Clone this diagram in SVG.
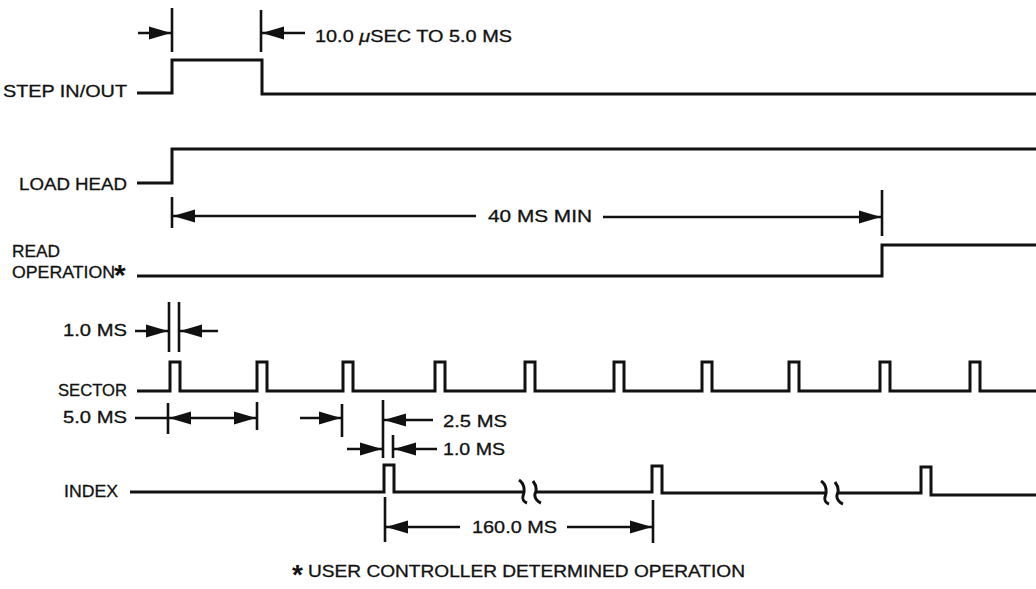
<svg xmlns="http://www.w3.org/2000/svg" width="1036" height="589" viewBox="0 0 1036 589">
<style>
.sig{fill:none;stroke:#111;stroke-width:3;stroke-linejoin:miter}
.tick{stroke:#111;stroke-width:2.6;fill:none}
.dim{stroke:#111;stroke-width:2.6;fill:none}
.ar{marker-end:url(#ah)}
.lbl{font-family:"Liberation Sans",Arial,sans-serif;font-size:17px;fill:#111;stroke:#111;stroke-width:0.3}
.star{font-family:"Liberation Sans",Arial,sans-serif;font-weight:bold;fill:#111}
</style>
<defs>
<marker id="ah" markerUnits="userSpaceOnUse" markerWidth="24" markerHeight="16" viewBox="-23 -8 24 16" refX="0" refY="0" orient="auto">
<path d="M-22,-6.5 L0,0 L-22,6.5 Z" fill="#111"/>
</marker>
<marker id="ahs" markerUnits="userSpaceOnUse" markerWidth="24" markerHeight="16" viewBox="-23 -8 24 16" refX="0" refY="0" orient="auto-start-reverse">
<path d="M-22,-6.5 L0,0 L-22,6.5 Z" fill="#111"/>
</marker>
</defs>
<rect width="1036" height="589" fill="#fff"/>

<g id="step">
<text class="lbl" x="3" y="97" textLength="124" lengthAdjust="spacingAndGlyphs">STEP IN/OUT</text>
<path class="sig" d="M137,93 H172 V60 H262 V94 H1036"/>
</g>

<g id="loadhead">
<text class="lbl" x="19" y="190" textLength="108" lengthAdjust="spacingAndGlyphs">LOAD HEAD</text>
<path class="sig" d="M137,183 H172 V149 H1036"/>
</g>

<g id="readop">
<text class="lbl" x="12" y="257" textLength="48" lengthAdjust="spacingAndGlyphs">READ</text>
<text class="lbl" x="12" y="278" textLength="103" lengthAdjust="spacingAndGlyphs">OPERATION</text>
<text class="star" x="114" y="285" font-size="30">*</text>
<path class="sig" d="M137,276 H882 V245 H1036"/>
</g>

<g id="sector">
<text class="lbl" x="58" y="396" textLength="69" lengthAdjust="spacingAndGlyphs">SECTOR</text>
<path class="sig" d="M137,391 H170 V362 H180 V391 H257 V362 H267 V391 H343 V362 H353 V391 H435 V362 H445 V391 H525 V362 H535 V391 H614 V362 H624 V391 H702 V362 H712 V391 H789 V362 H799 V391 H880 V362 H890 V391 H970 V362 H980 V391 H1036"/>
</g>

<g id="index">
<text class="lbl" x="64" y="497" textLength="54" lengthAdjust="spacingAndGlyphs">INDEX</text>
<path class="sig" d="M130,492 H384 V465 H394 V492 H524"/>
<path class="sig" d="M519,480 C525,484 525,492 523,496 C522,499 524,502 527,503"/>
<path class="sig" d="M533,481 C536,485 537,490 535,494 C534,498 538,502 541,503 M535,492 H652 V466 H662 V493 H826"/>
<path class="sig" d="M821,481 C827,485 827,493 825,497 C824,500 826,503 829,504"/>
<path class="sig" d="M835,482 C838,486 839,491 837,495 C836,499 840,503 843,504 M837,493 H921 V467 H931 V495 H1036"/>
</g>

<g id="connectors">
<line class="tick" x1="172" y1="8" x2="172" y2="52"/>
<line class="tick" x1="261" y1="10" x2="261" y2="52"/>
<line class="dim ar" x1="138" y1="33" x2="171" y2="33"/>
<line class="dim ar" x1="305" y1="33" x2="262" y2="33"/>
<text class="lbl" x="315" y="42" textLength="197" lengthAdjust="spacingAndGlyphs">10.0 <tspan font-style="italic">μ</tspan>SEC TO 5.0 MS</text>

<line class="tick" x1="172" y1="197" x2="172" y2="228"/>
<line class="tick" x1="882" y1="190" x2="882" y2="236"/>
<line class="dim ar" x1="476" y1="216" x2="173" y2="216"/>
<line class="dim ar" x1="603" y1="217" x2="881" y2="217"/>
<text class="lbl" x="488" y="222" textLength="104" lengthAdjust="spacingAndGlyphs">40 MS MIN</text>

<text class="lbl" x="63" y="336" textLength="64" lengthAdjust="spacingAndGlyphs">1.0 MS</text>
<line class="tick" x1="169" y1="302" x2="169" y2="352"/>
<line class="tick" x1="179" y1="302" x2="179" y2="352"/>
<line class="dim ar" x1="135" y1="331" x2="168" y2="331"/>
<line class="dim ar" x1="218" y1="331" x2="180" y2="331"/>

<text class="lbl" x="63" y="423" textLength="64" lengthAdjust="spacingAndGlyphs">5.0 MS</text>
<line class="dim" x1="135" y1="418" x2="168" y2="418"/>
<line class="tick" x1="168" y1="403" x2="168" y2="434"/>
<line class="tick" x1="257" y1="402" x2="257" y2="430"/>
<line class="dim" x1="169" y1="418" x2="256" y2="418" marker-start="url(#ahs)" marker-end="url(#ah)"/>
<line class="dim ar" x1="300" y1="418" x2="341" y2="418"/>
<line class="tick" x1="342" y1="404" x2="342" y2="437"/>

<line class="tick" x1="383" y1="400" x2="383" y2="458"/>
<line class="dim ar" x1="433" y1="420" x2="384" y2="420"/>
<text class="lbl" x="443" y="427" textLength="64" lengthAdjust="spacingAndGlyphs">2.5 MS</text>

<line class="tick" x1="393" y1="435" x2="393" y2="458"/>
<line class="dim ar" x1="347" y1="449" x2="382" y2="449"/>
<line class="dim ar" x1="437" y1="449" x2="394" y2="449"/>
<text class="lbl" x="443" y="455" textLength="62" lengthAdjust="spacingAndGlyphs">1.0 MS</text>

<line class="tick" x1="385" y1="497" x2="385" y2="542"/>
<line class="tick" x1="653" y1="500" x2="653" y2="543"/>
<line class="dim ar" x1="460" y1="527" x2="386" y2="527"/>
<line class="dim ar" x1="567" y1="527" x2="652" y2="527"/>
<text class="lbl" x="472" y="533" textLength="85" lengthAdjust="spacingAndGlyphs">160.0 MS</text>
</g>

<g id="footnote">
<text class="star" x="292" y="584" font-size="28">*</text>
<text class="lbl" x="308" y="577" textLength="437" lengthAdjust="spacingAndGlyphs">USER CONTROLLER DETERMINED OPERATION</text>
</g>
</svg>
